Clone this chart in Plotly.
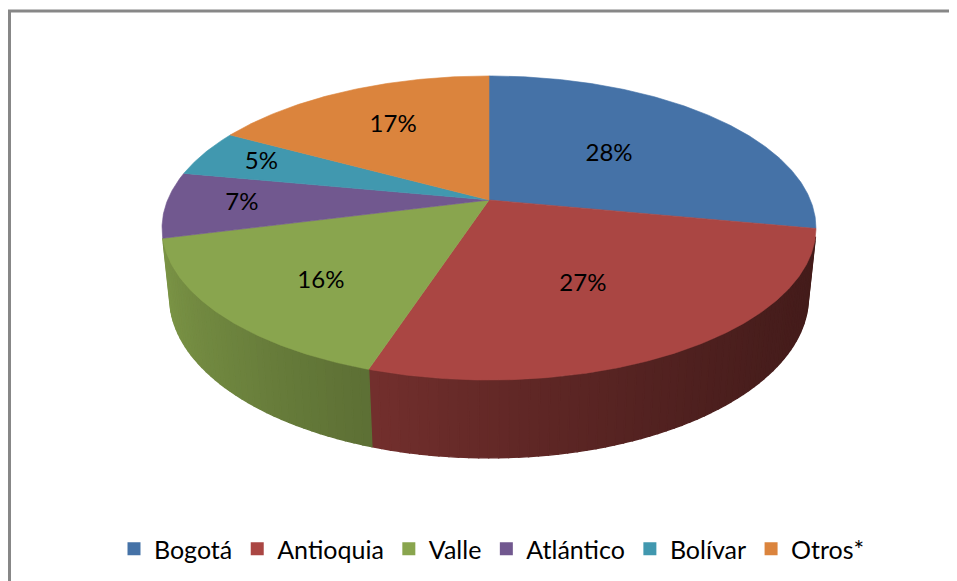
import numpy as np
import plotly.graph_objects as go

# ---- data ----
categories = ["Bogotá", "Antioquia", "Valle", "Atlántico", "Bolívar", "Otros*"]
values = [28, 27, 16, 7, 5, 17]
colors = ["#4572A7", "#AA4643", "#89A54E", "#71588F", "#4198AF", "#DB843D"]

# ---- 3D pie projection (layout parameters, pixel-like units) ----
W, H = 957, 581
OFF = 8.0                      # page body margin compensation
CX, CY = 489.0 - OFF, 200.0 - OFF
A, B = 321.4, 146.9
SIN_P = B / A
COS_P = np.sqrt(1 - SIN_P ** 2)
K = 0.184
D = COS_P / K
F = A * D
HGT = 0.243


def proj(theta, r=1.0, y=0.0):
    X = r * np.sin(theta)
    Z = r * np.cos(theta)
    depth = D - y * SIN_P + Z * COS_P
    up = y * COS_P + Z * SIN_P
    return CX + F * X / depth, CY - F * up / depth


def hex2rgb(h):
    h = h.lstrip("#")
    return tuple(int(h[i:i + 2], 16) for i in (0, 2, 4))


def shade(hexcol, f):
    r, g, b = hex2rgb(hexcol)
    return "rgb(%d,%d,%d)" % (r * f, g * f, b * f)


total = float(sum(values))
fracs = [v / total for v in values]
starts = np.cumsum([0] + fracs[:-1]) * 2 * np.pi
ends = np.cumsum(fracs) * 2 * np.pi

fig = go.Figure()

# ---- side walls (front, visible part) ----
xmin, xmax = CX - A * 1.0175, CX + A * 1.0175
step = np.radians(1.5)
for i, c in enumerate(colors):
    t0, t1 = starts[i], ends[i]
    n = max(1, int(np.ceil((t1 - t0) / step)))
    ts = np.linspace(t0, t1, n + 1)
    for a, b in zip(ts[:-1], ts[1:]):
        mid = 0.5 * (a + b)
        if np.cos(mid) > -0.24:
            continue
        tx1, ty1 = proj(a)
        tx2, ty2 = proj(b)
        bx2, by2 = proj(b, y=-HGT)
        bx1, by1 = proj(a, y=-HGT)
        u = np.clip(((tx1 + tx2) / 2 - xmin) / (xmax - xmin), 0, 1)
        f = 0.9 - 0.5 * u ** 0.7
        col = shade(c, f)
        fig.add_trace(go.Scatter(
            x=[tx1, tx2, bx2, bx1, tx1], y=[ty1, ty2, by2, by1, ty1],
            mode="lines", fill="toself", fillcolor=col,
            line=dict(color=col, width=1.4),
            hoverinfo="skip", showlegend=False))

# ---- top faces ----
for i, c in enumerate(colors):
    n = max(4, int(np.ceil((ends[i] - starts[i]) / np.radians(0.5))))
    ts = np.linspace(starts[i], ends[i], n + 1)
    px, py = proj(ts)
    xs = np.concatenate([[CX], px, [CX]])
    ys = np.concatenate([[CY], py, [CY]])
    fig.add_trace(go.Scatter(
        x=xs, y=ys, mode="lines", fill="toself", fillcolor=c,
        line=dict(color=c, width=0.6),
        hoverinfo="skip", showlegend=False))

# ---- data labels ----
mids = (starts + ends) / 2
lab_r = [0.85 - 1.2 * fr for fr in fracs]
lx, ly = [], []
for m, r in zip(mids, lab_r):
    a, b = proj(m, r=r)
    lx.append(a)
    ly.append(b + 15 * max(0.0, -np.cos(m)))
fig.add_trace(go.Scatter(
    x=lx, y=ly, mode="text",
    text=["%d%%" % round(fr * 100) for fr in fracs],
    textfont=dict(family="Lato", size=24, color="#000000"),
    hoverinfo="skip", showlegend=False))

# ---- legend entries ----
for name, c in zip(categories, colors):
    fig.add_trace(go.Scatter(
        x=[None], y=[None], mode="markers", name=name,
        marker=dict(symbol="square", size=13, color=c),
        showlegend=True))

fig.update_layout(
    width=W, height=H,
    margin=dict(l=0, r=0, t=0, b=0),
    paper_bgcolor="white", plot_bgcolor="white",
    xaxis=dict(range=[0, W], visible=False, fixedrange=True),
    yaxis=dict(range=[H, 0], visible=False, fixedrange=True),
    legend=dict(orientation="h", x=(492 - OFF) / W, xanchor="center",
                y=1 - (549 - OFF) / H, yanchor="middle",
                font=dict(family="Lato", size=25, color="#000000"),
                itemwidth=30, bgcolor="rgba(0,0,0,0)"),
    shapes=[dict(type="rect", xref="x", yref="y",
                 x0=1.5, y0=3, x1=970, y1=600,
                 line=dict(color="#878787", width=3), layer="above")],
)

fig.write_html("out.html")
